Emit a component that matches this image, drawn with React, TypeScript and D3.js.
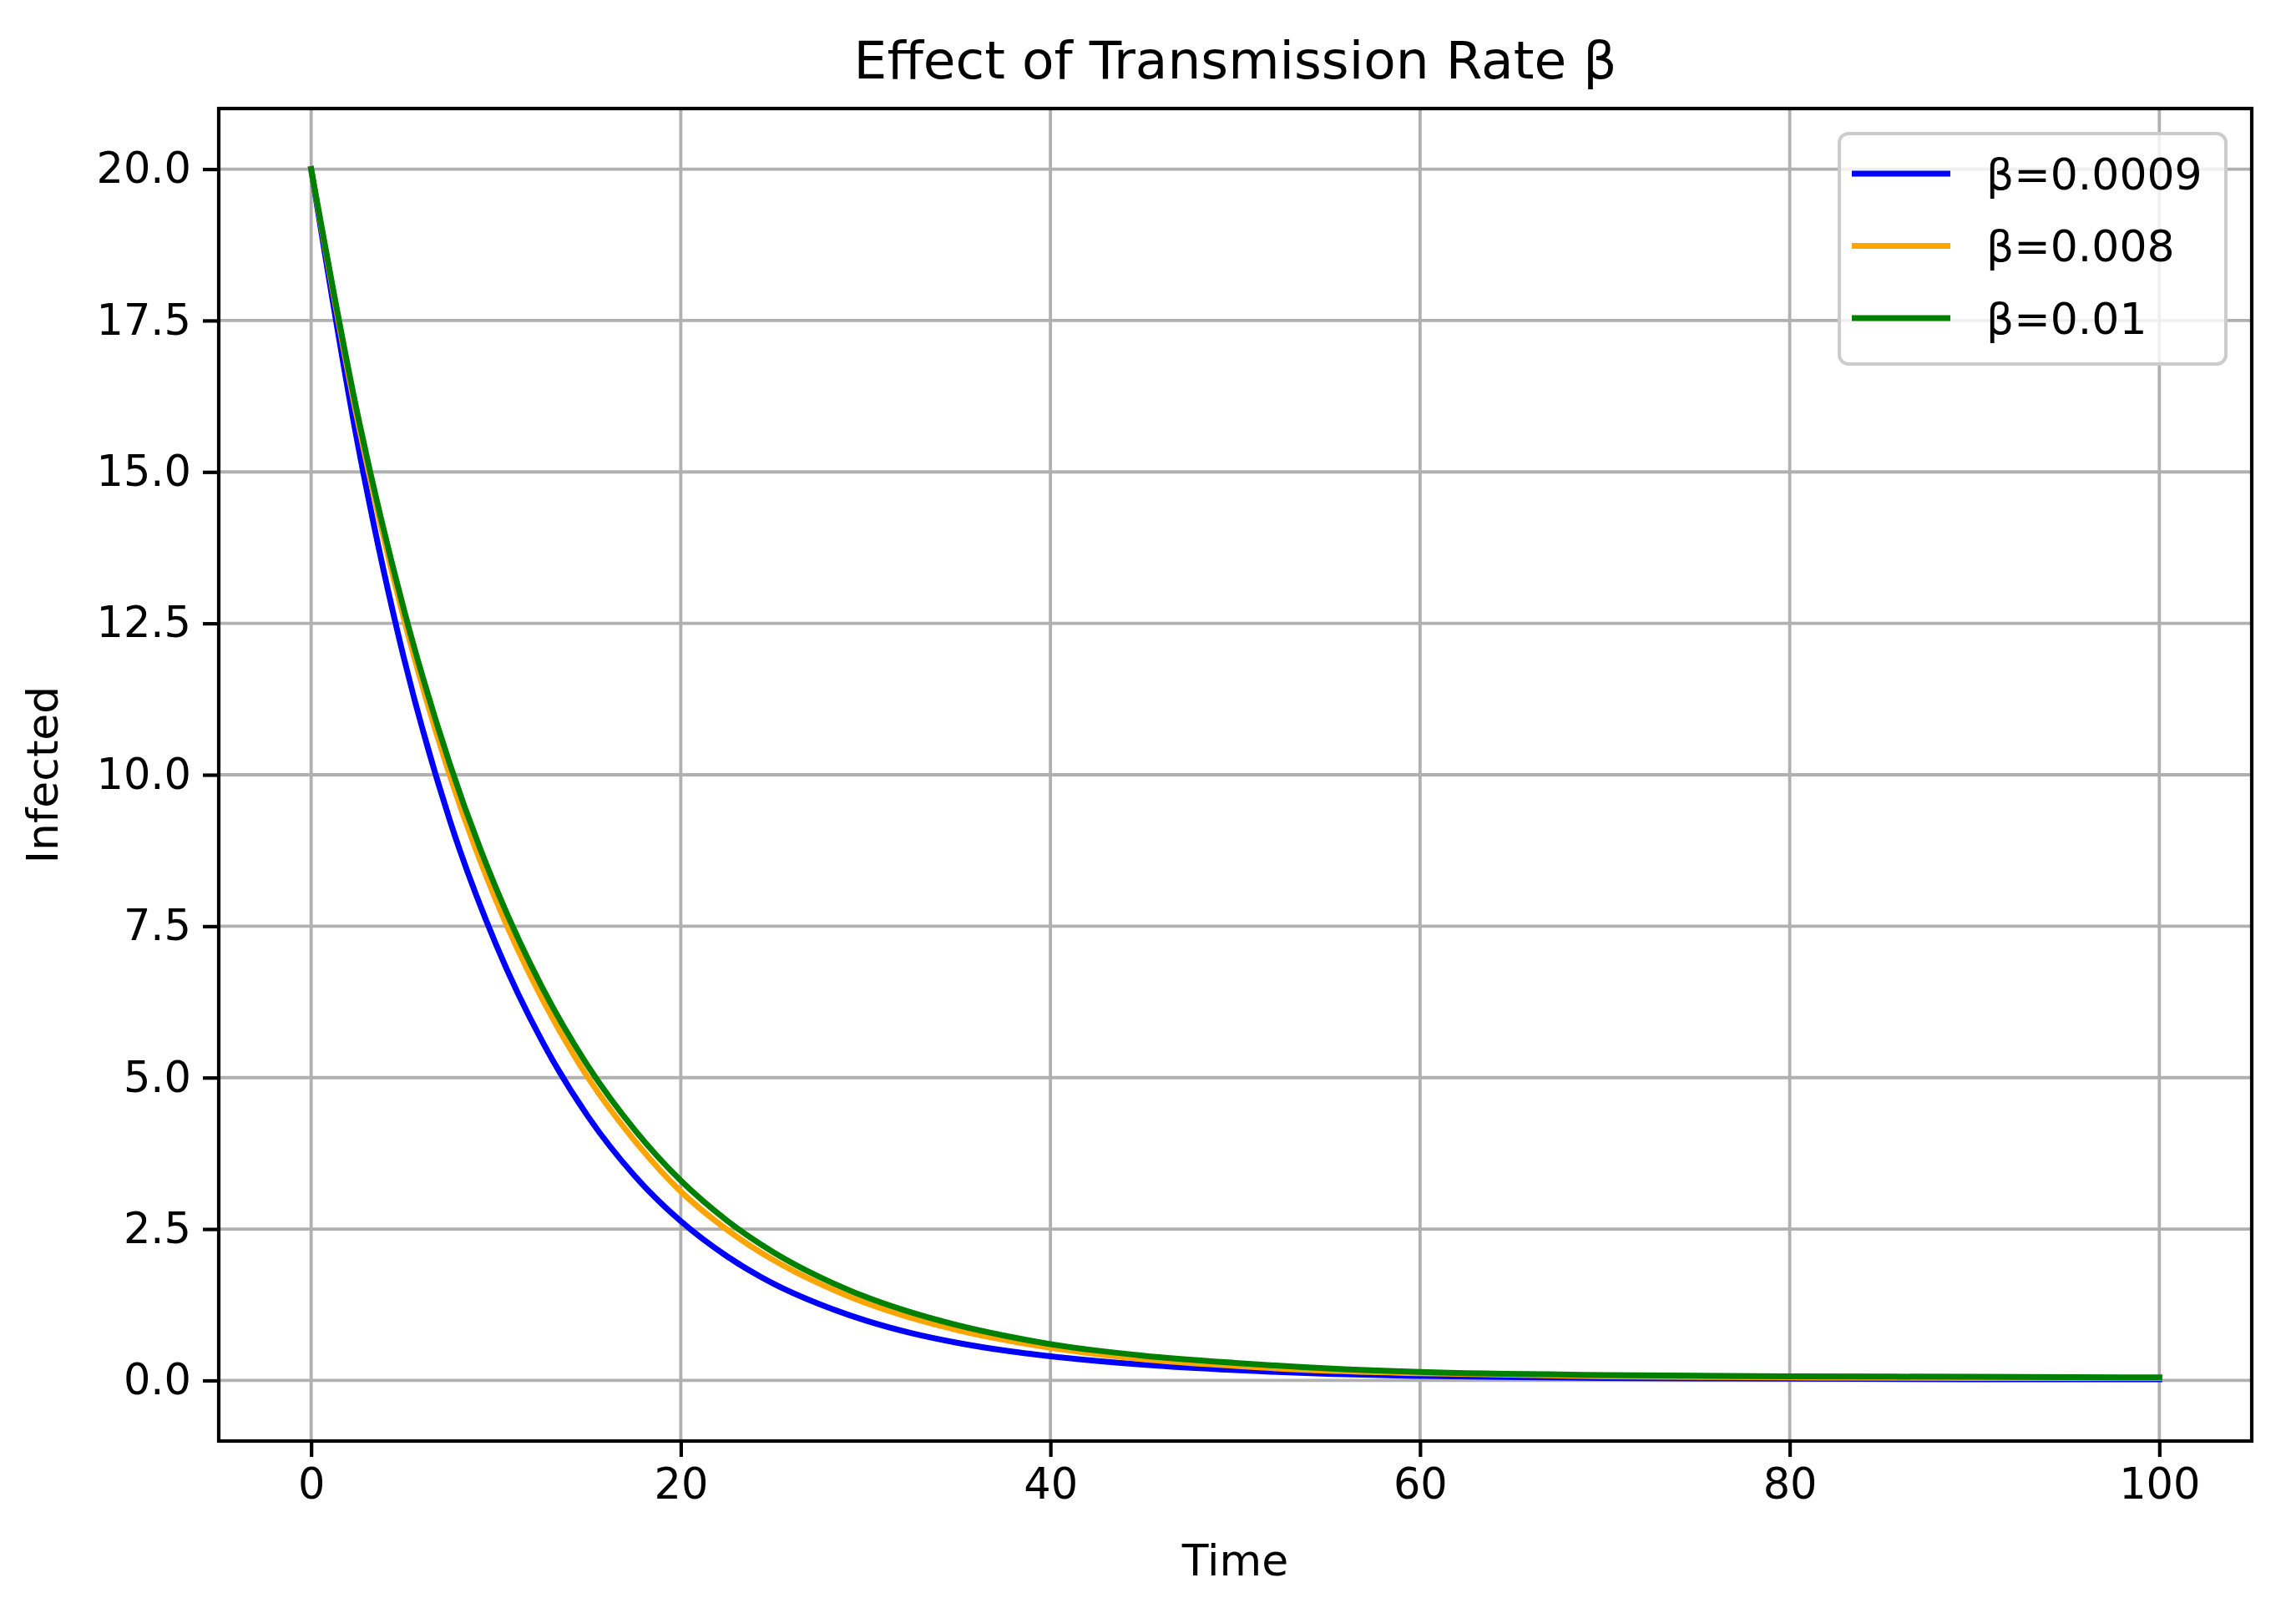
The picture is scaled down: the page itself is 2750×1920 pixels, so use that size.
import React, { useEffect, useRef } from 'react';
import * as d3 from 'd3';

// Sampled readings of the three infected curves
const times = [0, 2.5, 5, 7.5, 10, 12.5, 15, 17.5, 20, 22.5, 25, 27.5, 30, 32.5, 35, 37.5, 40, 45, 50, 55, 60, 70, 80, 90, 100];
const infectedLow = [20, 15.5, 11.95, 9.25, 7.2, 5.6, 4.35, 3.38, 2.63, 2.05, 1.6, 1.26, 0.99, 0.78, 0.62, 0.495, 0.4, 0.26, 0.17, 0.11, 0.075, 0.04, 0.03, 0.02, 0.02];
const infectedMid = [20, 15.87, 12.6, 9.99, 7.93, 6.3, 4.99, 3.96, 3.12, 2.49, 1.99, 1.6, 1.28, 1.03, 0.83, 0.67, 0.54, 0.35, 0.24, 0.16, 0.12, 0.07, 0.05, 0.04, 0.04];
const infectedHigh = [20, 15.97, 12.75, 10.18, 8.13, 6.49, 5.18, 4.14, 3.3, 2.64, 2.12, 1.71, 1.38, 1.12, 0.91, 0.74, 0.6, 0.41, 0.29, 0.2, 0.14, 0.09, 0.07, 0.06, 0.05];

const seriesLabels = ['β=0.0009', 'β=0.008', 'β=0.01'];
const seriesColors = ['#0000ff', '#ffa500', '#008000'];
const xTicks = [0, 20, 40, 60, 80, 100];
const yTicks = [0, 2.5, 5, 7.5, 10, 12.5, 15, 17.5, 20];

const W = 2750;
const H = 1920;
const FONT = '"DejaVu Sans", sans-serif';

const App: React.FC = () => {
  const svgRef = useRef<SVGSVGElement | null>(null);

  useEffect(() => {
    if (!svgRef.current) return;
    const svg = d3.select(svgRef.current);
    svg.selectAll('*').remove();

    const left = 262;
    const right = 2697;
    const top = 130;
    const bottom = 1726;

    const x = d3.scaleLinear().domain([-5, 105]).range([left, right]);
    const y = d3.scaleLinear().domain([-1, 21]).range([bottom, top]);

    svg.append('rect').attr('width', W).attr('height', H).attr('fill', '#fff');

    // grid
    const grid = svg.append('g').attr('stroke', '#b0b0b0').attr('stroke-width', 3.8);
    xTicks.forEach((t) => {
      grid.append('line').attr('x1', x(t)).attr('x2', x(t)).attr('y1', top).attr('y2', bottom);
    });
    yTicks.forEach((t) => {
      grid.append('line').attr('x1', left).attr('x2', right).attr('y1', y(t)).attr('y2', y(t));
    });

    // curves
    const series = [infectedLow, infectedMid, infectedHigh];
    const line = d3
      .line<number>()
      .x((_, i) => x(times[i]))
      .y((d) => y(d))
      .curve(d3.curveMonotoneX);
    series.forEach((vals, i) => {
      svg
        .append('path')
        .attr('d', line(vals))
        .attr('fill', 'none')
        .attr('stroke', seriesColors[i])
        .attr('stroke-width', 7)
        .attr('stroke-linecap', 'square');
    });

    // frame
    svg
      .append('rect')
      .attr('x', left)
      .attr('y', top)
      .attr('width', right - left)
      .attr('height', bottom - top)
      .attr('fill', 'none')
      .attr('stroke', '#000')
      .attr('stroke-width', 4.2);

    // axes
    const xAxis = d3.axisBottom(x).tickValues(xTicks).tickSize(19).tickPadding(14).tickSizeOuter(0);
    const gx = svg.append('g').attr('transform', `translate(0,${bottom})`).call(xAxis);
    const yAxis = d3
      .axisLeft(y)
      .tickValues(yTicks)
      .tickSize(19)
      .tickPadding(14)
      .tickSizeOuter(0)
      .tickFormat(d3.format('.1f'));
    const gy = svg.append('g').attr('transform', `translate(${left},0)`).call(yAxis);
    [gx, gy].forEach((g) => {
      g.select('.domain').remove();
      g.selectAll('line').attr('stroke', '#000').attr('stroke-width', 4.2);
      g.selectAll('text')
        .attr('font-family', FONT)
        .attr('font-size', 51)
        .attr('fill', '#000');
    });
    gx.selectAll('text').attr('dy', '0.71em');

    // title and labels
    svg
      .append('text')
      .attr('x', (left + right) / 2)
      .attr('y', 94)
      .attr('text-anchor', 'middle')
      .attr('font-family', FONT)
      .attr('font-size', 63)
      .text('Effect of Transmission Rate β');
    svg
      .append('text')
      .attr('x', (left + right) / 2)
      .attr('y', 1887)
      .attr('text-anchor', 'middle')
      .attr('font-family', FONT)
      .attr('font-size', 52)
      .text('Time');
    svg
      .append('text')
      .attr('transform', `translate(69,${(top + bottom) / 2}) rotate(-90)`)
      .attr('text-anchor', 'middle')
      .attr('font-family', FONT)
      .attr('font-size', 52)
      .text('Infected');

    // legend
    const lg = svg.append('g');
    lg.append('rect')
      .attr('x', 2203)
      .attr('y', 160)
      .attr('width', 463)
      .attr('height', 276)
      .attr('rx', 11)
      .attr('fill', '#fff')
      .attr('fill-opacity', 0.8)
      .attr('stroke', '#cccccc')
      .attr('stroke-width', 4);
    const rowY = d3.scalePoint<string>().domain(seriesLabels).range([208, 381]);
    seriesLabels.forEach((label, i) => {
      const ry = rowY(label)!;
      lg.append('line')
        .attr('x1', 2218)
        .attr('x2', 2336)
        .attr('y1', ry)
        .attr('y2', ry)
        .attr('stroke', seriesColors[i])
        .attr('stroke-width', 7);
      lg.append('text')
        .attr('x', 2379)
        .attr('y', ry)
        .attr('dy', '0.36em')
        .attr('font-family', FONT)
        .attr('font-size', 52)
        .text(label);
    });
  }, []);

  return (
    <svg
      ref={svgRef}
      width={W}
      height={H}
      viewBox={`0 0 ${W} ${H}`}
      style={{ position: 'absolute', left: 0, top: 0, display: 'block' }}
    />
  );
};

export default App;
